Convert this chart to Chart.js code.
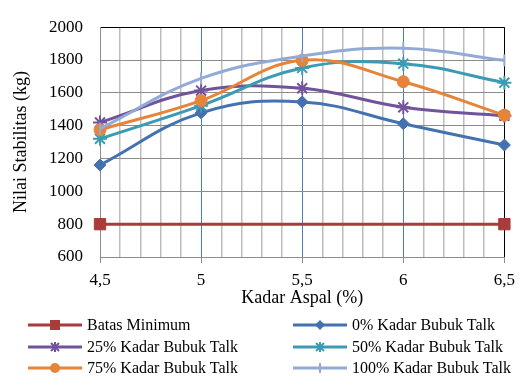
<!DOCTYPE html>
<html>
<head>
<meta charset="utf-8">
<script src="https://cdn.jsdelivr.net/npm/chart.js@4/dist/chart.umd.min.js"></script>
<style>
    html, body { margin: 0; padding: 0; background: #fff; }
    #wrap { position: relative; width: 522px; height: 378px; }
    #stabChart { position: absolute; left: 0; top: 0; }
    .leg {
        position: absolute; height: 20px; display: flex; align-items: center;
        font-family: "Liberation Serif", "Times New Roman", serif; font-size: 16px;
        color: #000; white-space: nowrap;
    }
    .leg svg { margin-right: 4px; }
</style>
</head>
<body>
<div id="wrap">
    <canvas id="stabChart" width="522" height="378"></canvas>
    <div id="legend"></div>
</div>
<script>
// kadar aspal (%)
const kadarAspal = [4.5, 5, 5.5, 6, 6.5];
// garis batas minimum hanya dua titik
const batasX = [4.5, 6.5];
const batasMinimum = [800, 800];
// nilai stabilitas (kg) per kadar bubuk talk
const talk0 = [1160, 1478, 1545, 1412, 1282];
const talk25 = [1420, 1614, 1628, 1512, 1460];
const talk50 = [1320, 1522, 1752, 1778, 1662];
const talk75 = [1375, 1553, 1798, 1668, 1464];
const talk100 = [1382, 1688, 1824, 1872, 1798];

const fontSerif = '"Liberation Serif", "Times New Roman", serif';

// seri: label, data, warna, marker
const series = [
    {label: 'Batas Minimum', xs: batasX, ys: batasMinimum, color: '#a63d3a', style: 'rect', radius: 8},
    {label: '0% Kadar Bubuk Talk', xs: kadarAspal, ys: talk0, color: '#4472b0', style: 'rectRot', radius: 6},
    {label: '25% Kadar Bubuk Talk', xs: kadarAspal, ys: talk25, color: '#71539b', style: 'star', radius: 7},
    {label: '50% Kadar Bubuk Talk', xs: kadarAspal, ys: talk50, color: '#3b9bb3', style: 'star', radius: 7},
    {label: '75% Kadar Bubuk Talk', xs: kadarAspal, ys: talk75, color: '#e6843a', style: 'circle', radius: 6},
    {label: '100% Kadar Bubuk Talk', xs: kadarAspal, ys: talk100, color: '#93aad6', style: 'line', radius: 6, rotation: 90},
];

const datasets = series.map((s, i) => ({
    label: s.label,
    data: s.xs.map((x, j) => ({x: x, y: s.ys[j]})),
    borderColor: s.color,
    backgroundColor: s.color,
    pointBackgroundColor: s.color,
    pointBorderColor: s.color,
    pointStyle: s.style,
    pointRadius: s.radius,
    pointRotation: s.rotation || 0,
    pointBorderWidth: s.style === 'star' || s.style === 'line' ? 2 : 1,
    borderWidth: 3,
    tension: 0.4,
    clip: false,
    order: series.length - i
}));

const isMajor = (v) => Math.abs(v * 2 - Math.round(v * 2)) < 1e-6;

const chartOptions = {
    responsive: false,
    animation: false,
    layout: {
        padding: {left: 0, right: 14, top: 19, bottom: 65}
    },
    plugins: {
        legend: {display: false},
        tooltip: {enabled: false}
    },
    scales: {
        x: {
            type: 'linear',
            min: 4.5,
            max: 6.5,
            afterFit: (scale) => { scale.height = 56; },
            border: {color: '#8c8c8c', width: 1},
            grid: {
                color: (ctx) => {
                    const v = ctx.tick ? ctx.tick.value : 0;
                    if (Math.abs(v - 6.5) < 1e-6) return '#000';
                    if (Math.abs(v - 4.5) < 1e-6) return '#8c8c8c';
                    return isMajor(v) ? '#4a7ebb' : '#bdbdbd';
                },
                lineWidth: (ctx) => {
                    const v = ctx.tick ? ctx.tick.value : 0;
                    return isMajor(v) ? 1 : 1.5;
                },
                tickColor: (ctx) => {
                    const v = ctx.tick ? ctx.tick.value : 0;
                    return isMajor(v) ? '#8c8c8c' : 'rgba(0,0,0,0)';
                },
                tickLength: 6
            },
            ticks: {
                stepSize: 0.1,
                autoSkip: false,
                maxRotation: 0,
                padding: 7,
                color: '#000',
                font: {family: fontSerif, size: 17},
                callback: (v) => isMajor(v) ? String(Math.round(v * 10) / 10).replace('.', ',') : ''
            },
            title: {
                display: true,
                text: 'Kadar Aspal (%)',
                color: '#000',
                font: {family: fontSerif, size: 18},
                padding: {top: 0, bottom: 4}
            }
        },
        y: {
            min: 600,
            max: 2000,
            afterFit: (scale) => { scale.width = 100; },
            border: {color: '#8c8c8c', width: 1},
            grid: {
                color: (ctx) => (ctx.tick && ctx.tick.value === 2000) ? '#000' : '#8c8c8c',
                lineWidth: 1,
                drawTicks: false
            },
            ticks: {
                stepSize: 200,
                padding: 17,
                color: '#000',
                font: {family: fontSerif, size: 17},
                callback: (v) => String(v)
            },
            title: {
                display: true,
                text: 'Nilai Stabilitas (kg)',
                color: '#000',
                font: {family: fontSerif, size: 18},
                padding: {top: 10, bottom: 0}
            }
        }
    }
};

new Chart(document.getElementById('stabChart'), {
    type: 'line',
    data: {datasets: datasets},
    options: chartOptions
});

// legenda dua kolom dengan garis + marker
function markerSvg(s) {
    const c = s.color;
    const cx = 28, cy = 7;
    let m = '';
    if (s.style === 'rect') {
        m = `<rect x="${cx - 5}" y="${cy - 5}" width="10" height="10" fill="${c}"/>`;
    } else if (s.style === 'rectRot') {
        m = `<polygon points="${cx - 5},${cy} ${cx},${cy - 5} ${cx + 5},${cy} ${cx},${cy + 5}" fill="${c}"/>`;
    } else if (s.style === 'circle') {
        m = `<circle cx="${cx}" cy="${cy}" r="5" fill="${c}"/>`;
    } else if (s.style === 'star') {
        m = `<path d="M${cx - 4} ${cy - 4}L${cx + 4} ${cy + 4}M${cx - 4} ${cy + 4}L${cx + 4} ${cy - 4}M${cx} ${cy - 5}L${cx} ${cy + 5}" stroke="${c}" stroke-width="2"/>`;
    } else if (s.style === 'line') {
        m = `<path d="M${cx} ${cy - 5}L${cx} ${cy + 5}" stroke="${c}" stroke-width="2"/>`;
    }
    return `<svg width="56" height="14"><line x1="1" y1="${cy}" x2="55" y2="${cy}" stroke="${c}" stroke-width="3"/>${m}</svg>`;
}

const legendEl = document.getElementById('legend');
const colLeft = [27, 292];
const rowMid = [325, 347, 368];
series.forEach((s, i) => {
    const div = document.createElement('div');
    div.className = 'leg';
    div.style.left = colLeft[i % 2] + 'px';
    div.style.top = (rowMid[Math.floor(i / 2)] - 10) + 'px';
    div.innerHTML = markerSvg(s) + '<span>' + s.label + '</span>';
    legendEl.appendChild(div);
});
</script>
</body>
</html>
